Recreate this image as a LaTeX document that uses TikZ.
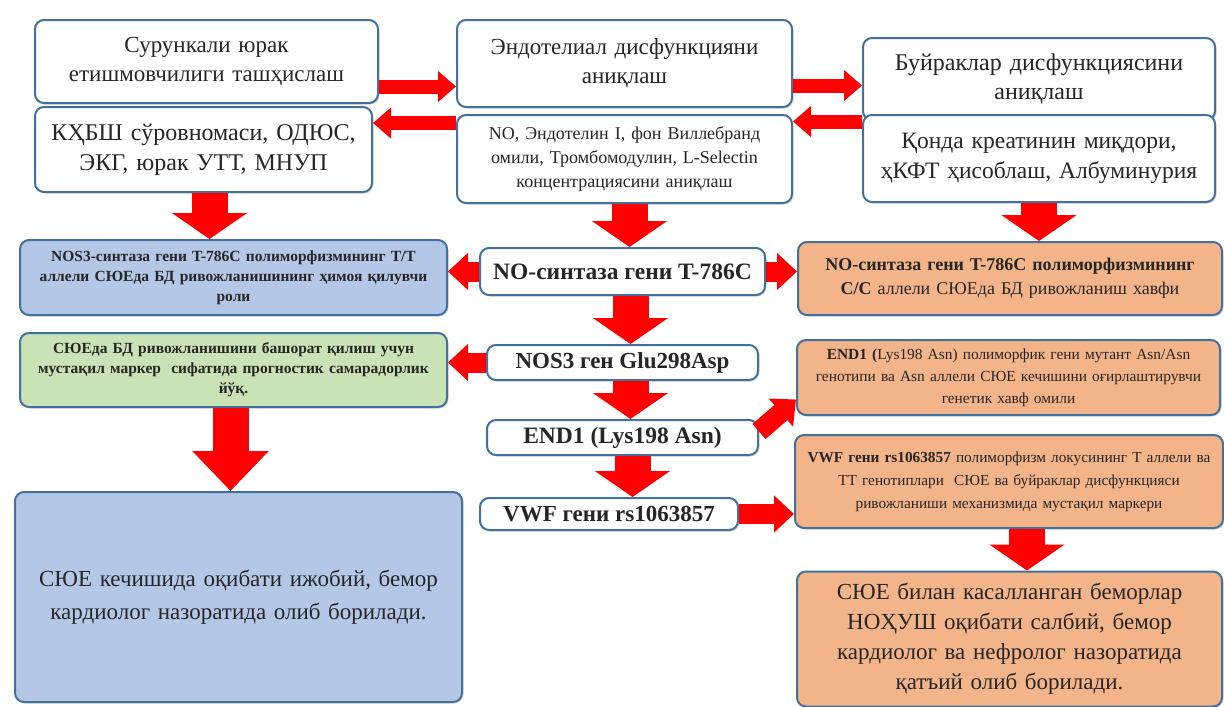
\documentclass[tikz,border=0pt]{standalone}
\usepackage{fontspec}
\setmainfont{Liberation Serif}
\usetikzlibrary{arrows.meta, shadows}

\definecolor{edgeblue}{HTML}{41719C}
\definecolor{fillblue}{HTML}{B4C7E7}
\definecolor{fillgreen}{HTML}{C9E2B6}
\definecolor{fillorange}{HTML}{F4B489}
\definecolor{arrowred}{HTML}{FF0000}

\tikzset{
  basebox/.style={draw=edgeblue, line width=2pt, rounded corners=9pt,
    align=center, inner sep=2pt, text=black!85,
    drop shadow={opacity=0.3, shadow xshift=1.5pt, shadow yshift=-1.5pt}},
  whitebox/.style={basebox, fill=white},
  bluebox/.style={basebox, fill=fillblue},
  greenbox/.style={basebox, fill=fillgreen},
  orangebox/.style={basebox, fill=fillorange},
  toparrow/.style={draw=arrowred, line width=14pt, -{Triangle[width=30pt, length=18pt]}},
  sidearrow/.style={draw=arrowred, line width=20pt, -{Triangle[width=36pt, length=20pt]}},
  downarrow/.style={draw=arrowred, line width=36pt, -{Triangle[width=74pt, length=26pt]}},
  bigarrow/.style={draw=arrowred, line width=36pt, -{Triangle[width=74pt, length=40pt]}},
}

\begin{document}
\begin{tikzpicture}[x=1pt, y=-1pt]
    \useasboundingbox (0,0) rectangle (1224,707);

    % Top row: diagnosis boxes
    \node[whitebox, minimum width=343pt, minimum height=83pt, text width=330pt,
      font=\fontsize{23}{29}\selectfont] (sur) at (206.5,61.5)
      {Сурункали юрак\\етишмовчилиги ташҳислаш};
    \node[whitebox, minimum width=337pt, minimum height=85pt, text width=330pt,
      font=\fontsize{24}{30}\selectfont] (kqbsh) at (203.5,149.5)
      {КҲБШ сўровномаси, ОДЮС,\\ЭКГ, юрак УТТ, МНУП};
    \node[whitebox, minimum width=335pt, minimum height=87pt, text width=325pt,
      font=\fontsize{23}{29}\selectfont] (endo) at (624.5,63.5)
      {Эндотелиал дисфункцияни\\аниқлаш};
    \node[whitebox, minimum width=335pt, minimum height=88pt, text width=325pt,
      font=\fontsize{18}{24}\selectfont] (noendo) at (624.5,159)
      {NO, Эндотелин I, фон Виллебранд\\омили, Тромбомодулин, L-Selectin\\концентрациясини аниқлаш};
    \node[whitebox, minimum width=352pt, minimum height=82pt, text width=345pt,
      font=\fontsize{24}{29}\selectfont] (buyr) at (1039,79)
      {Буйраклар дисфункциясини\\аниқлаш};
    \node[whitebox, minimum width=352pt, minimum height=87pt, text width=345pt,
      font=\fontsize{23.5}{30}\selectfont] (qonda) at (1039,158.5)
      {Қонда креатинин миқдори,\\ҳКФТ ҳисоблаш, Албуминурия};

    % Gene boxes in the middle column
    \node[whitebox, minimum width=285pt, minimum height=47pt,
      font=\bfseries\fontsize{23.5}{28}\selectfont] (nosyn) at (622.5,271.5)
      {NO-синтаза гени T-786C};
    \node[whitebox, minimum width=271pt, minimum height=35pt,
      font=\bfseries\fontsize{23}{26}\selectfont] (glu) at (622.5,362.5)
      {NOS3 ген Glu298Asp};
    \node[whitebox, minimum width=271pt, minimum height=35pt,
      font=\bfseries\fontsize{23.5}{26}\selectfont] (end1) at (622.5,437.5)
      {END1 (Lys198 Asn)};
    \node[whitebox, minimum width=258pt, minimum height=32pt,
      font=\bfseries\fontsize{23}{26}\selectfont] (vwf) at (609,514)
      {VWF гени rs1063857};

    % Left column results
    \node[bluebox, minimum width=427pt, minimum height=75pt, text width=420pt,
      font=\bfseries\fontsize{15.5}{20}\selectfont] (nost) at (233.5,277.5)
      {NOS3-синтаза гени T-786C полиморфизмининг T/T\\аллели СЮЕда БД ривожланишининг ҳимоя қилувчи\\роли};
    \node[greenbox, minimum width=427pt, minimum height=74pt, text width=420pt,
      font=\bfseries\fontsize{15.5}{20}\selectfont] (green) at (233.5,370)
      {СЮЕда БД ривожланишини башорат қилиш учун\\мустақил маркер\ \ сифатида прогностик самарадорлик\\йўқ.};
    \node[bluebox, minimum width=447pt, minimum height=210pt, text width=440pt,
      font=\fontsize{23}{33}\selectfont] (good) at (238.5,597)
      {СЮЕ кечишида оқибати ижобий, бемор\\кардиолог назоратида олиб борилади.};

    % Right column results
    \node[orangebox, minimum width=424pt, minimum height=73pt, text width=418pt,
      font=\fontsize{18}{24}\selectfont] (nocc) at (1010,278.5)
      {\textbf{NO-синтаза гени T-786C полиморфизмининг}\\\textbf{C/C} аллели СЮЕда БД ривожланиш хавфи};
    \node[orangebox, minimum width=423pt, minimum height=75pt, text width=418pt,
      font=\fontsize{15.4}{22}\selectfont] (endor) at (1008.5,377.5)
      {\textbf{END1 (}Lys198 Asn) полиморфик гени мутант Asn/Asn\\генотипи ва Asn аллели СЮЕ кечишини оғирлаштирувчи\\генетик хавф омили};
    \node[orangebox, minimum width=428pt, minimum height=93pt, text width=422pt,
      font=\fontsize{15.3}{23}\selectfont] (vwfor) at (1009,481.5)
      {\textbf{VWF гени rs1063857} полиморфизм локусининг T аллели ва\\TT генотиплари\ \ СЮЕ ва буйраклар дисфункцияси\\ривожланиши механизмида мустақил маркери};
    \node[orangebox, minimum width=425pt, minimum height=135pt, text width=418pt,
      font=\fontsize{23}{30}\selectfont] (bad) at (1009.5,639)
      {СЮЕ билан касалланган беморлар\\НОҲУШ оқибати салбий, бемор\\кардиолог ва нефролог назоратида\\қатъий олиб борилади.};

    % Draw the arrows between the top boxes
    \draw[toparrow] ([yshift=-25pt]sur.east) -- ([yshift=-25pt]sur.east -| endo.west);
    \draw[toparrow] ([yshift=36pt]noendo.west) -- ([yshift=36pt]noendo.west -| kqbsh.east);
    \draw[toparrow] ([yshift=-22pt]endo.east) -- ([yshift=-22pt]endo.east -| buyr.west);
    \draw[toparrow] ([yshift=37pt]qonda.west) -- ([yshift=37pt]qonda.west -| noendo.east);

    % Draw the arrows down to the gene row
    \draw[downarrow] ([xshift=6pt]kqbsh.south) -- ([xshift=6pt]kqbsh.south |- nost.north);
    \draw[downarrow] ([xshift=5pt]noendo.south) -- ([xshift=5pt]noendo.south |- nosyn.north);
    \draw[downarrow] (qonda.south) -- (qonda.south |- nocc.north);

    % Draw the arrows from the gene boxes
    \draw[sidearrow] (nosyn.west) -- (nosyn.west -| nost.east);
    \draw[sidearrow] (nosyn.east) -- (nosyn.east -| nocc.west);
    \draw[downarrow] ([xshift=8pt]nosyn.south) -- ([xshift=8pt]nosyn.south |- glu.north);
    \draw[sidearrow] (glu.west) -- (glu.west -| green.east);
    \draw[downarrow] ([xshift=8pt]glu.south) -- ([xshift=8pt]glu.south |- end1.north);
    \draw[sidearrow] ([yshift=6pt]end1.east) -- ([yshift=-22pt]endor.west);
    \draw[downarrow] ([xshift=10pt]end1.south) -- ([xshift=10pt]end1.south |- vwf.north);
    \draw[sidearrow] (vwf.east) -- (vwf.east -| vwfor.west);

    % Draw the arrows to the outcome boxes
    \draw[bigarrow] ([xshift=-3pt]green.south) -- ([xshift=-3pt]green.south |- good.north);
    \draw[downarrow] ([xshift=18pt]vwfor.south) -- ([xshift=18pt]vwfor.south |- bad.north);

\end{tikzpicture}
\end{document}
